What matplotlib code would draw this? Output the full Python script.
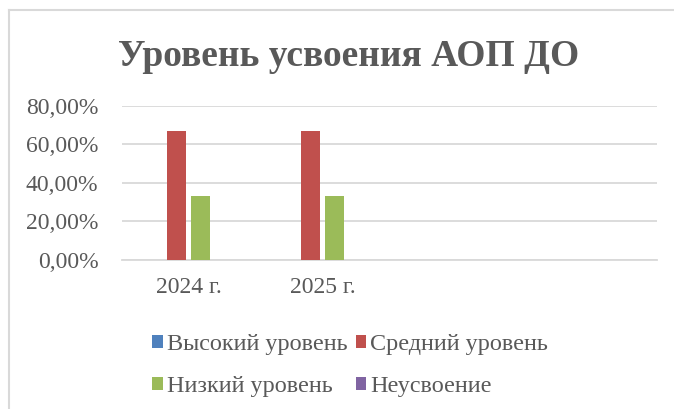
# -*- coding: utf-8 -*-

"""
    Уровень усвоения АОП ДО: столбчатая диаграмма по годам
"""
import numpy as np
import matplotlib.pyplot as plt
from matplotlib.lines import Line2D
from matplotlib.ticker import FuncFormatter, MultipleLocator


# категории оси X (две последние пустые, как в исходной диаграмме)
categories = ['2024 г.', '2025 г.', '', '']

# значения рядов по годам (доли)
series_names = ['Высокий уровень', 'Средний уровень', 'Низкий уровень', 'Неусвоение']
high_level = [0.0, 0.0]
mid_level = [0.6667, 0.6667]
low_level = [0.3333, 0.3333]
not_learned = [0.0, 0.0]

colors = ['#4F81BD', '#C0504D', '#9BBB59', '#8064A2']
text_color = '#595959'
grid_color = '#D9D9D9'

plt.rcParams['font.family'] = ['Liberation Serif', 'DejaVu Serif']


def pct_format(v, pos):
    return '{:.2f}%'.format(v * 100).replace('.', ',')


def main():
    fig = plt.figure(figsize=(6.74, 4.09), dpi=100)
    ax = fig.add_axes([122 / 674, 1 - 260 / 409, 535 / 674, (260 - 105.7) / 409])

    series = [high_level, mid_level, low_level, not_learned]
    x = np.arange(len(high_level))
    pitch = 0.1794
    width = 0.142
    handles = []
    for i, (name, vals) in enumerate(zip(series_names, series)):
        bars = ax.bar(x + (i - 1.5) * pitch, vals, width=width, color=colors[i], label=name, zorder=3)
        handles.append(bars)

    ax.set_xlim(-0.5, len(categories) - 0.5)
    ax.set_ylim(0, 0.8)
    ax.yaxis.set_major_locator(MultipleLocator(0.2))
    ax.yaxis.set_major_formatter(FuncFormatter(pct_format))
    ax.set_xticks(range(len(categories)))
    ax.set_xticklabels(categories)

    ax.grid(axis='y', color=grid_color, linewidth=1.3, zorder=0)
    for side in ['top', 'right', 'left']:
        ax.spines[side].set_visible(False)
    ax.spines['bottom'].set_color(grid_color)
    ax.spines['bottom'].set_linewidth(1.3)
    ax.tick_params(axis='both', length=0, labelsize=17, labelcolor=text_color)
    ax.tick_params(axis='y', pad=17)
    ax.tick_params(axis='x', pad=12)

    # заголовок
    fig.text(349 / 674, 1 - 66 / 409, 'Уровень усвоения АОП ДО', ha='center', va='baseline',
             fontsize=27, fontweight='bold', color=text_color)

    # легенда: порядок по строкам, как в оригинале
    order = [0, 2, 1, 3]
    leg = fig.legend([handles[k] for k in order], [series_names[k] for k in order],
                     loc='upper center', bbox_to_anchor=(350 / 674, 1 - 322 / 409), ncol=2,
                     frameon=False, fontsize=17.4, handlelength=0.45, handleheight=0.45,
                     handletextpad=0.15, columnspacing=0.35, labelspacing=0.85, borderpad=0)
    for t in leg.get_texts():
        t.set_color(text_color)

    # рамка области диаграммы (обрезана справа и снизу)
    fig.add_artist(Line2D([9 / 674, 1.0], [1 - 9.5 / 409, 1 - 9.5 / 409], color=grid_color, linewidth=1.5))
    fig.add_artist(Line2D([9 / 674, 9 / 674], [0.0, 1 - 9.5 / 409], color=grid_color, linewidth=1.5))

    plt.savefig('out.png', dpi=100)


if __name__ == '__main__':
    main()
